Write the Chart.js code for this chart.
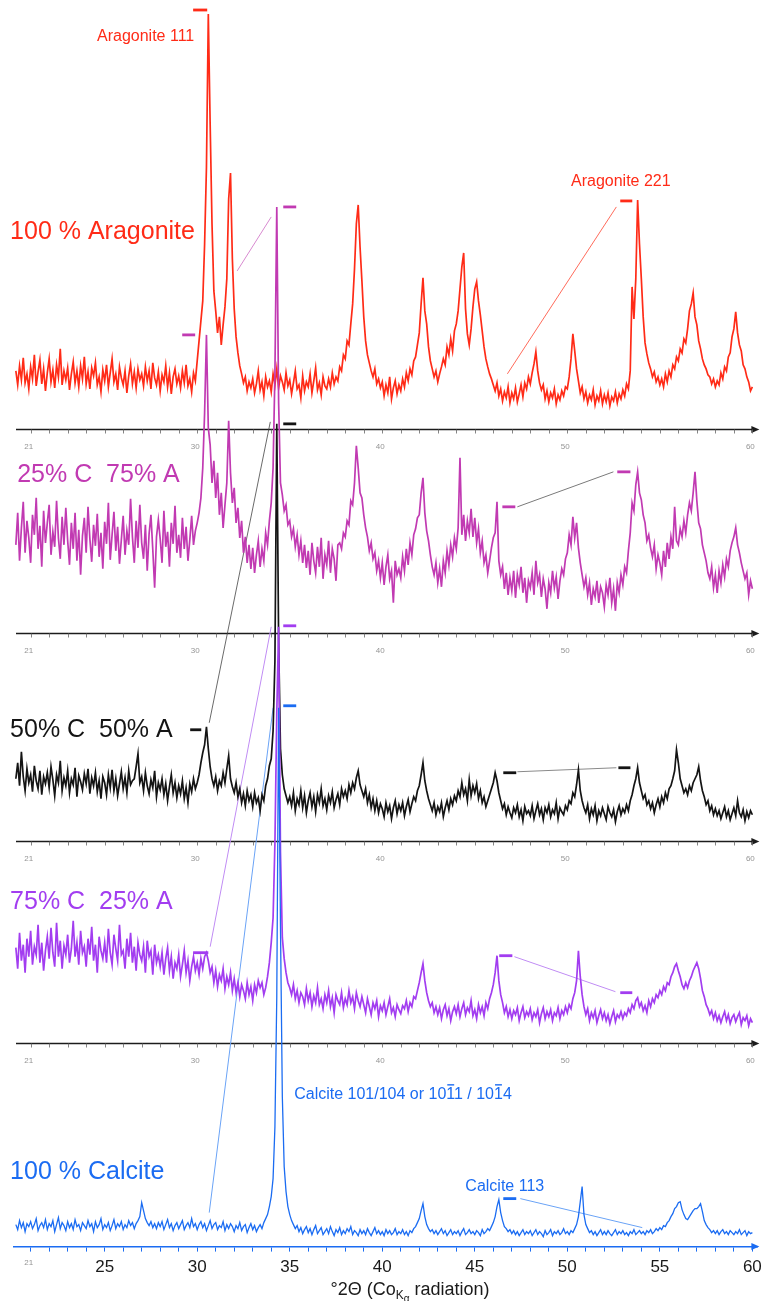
<!DOCTYPE html>
<html>
<head>
<meta charset="utf-8">
<title>XRD – aragonite / calcite mixtures</title>
<script src="https://cdn.jsdelivr.net/npm/chart.js@4.4.1/dist/chart.umd.min.js"></script>
<style>
  html, body { margin: 0; padding: 0; background: #fff; }
  canvas { display: block; }
</style>
</head>
<body>
<canvas id="xrd" width="762" height="1301"></canvas>
<script>
// scans are read every 0.1 °2θ, starting at 20.2
const twoThetaStart = 20.2
const twoThetaStep = 0.1

// intensities (arbitrary counts), one row per degree
const aragonite100 = [
  58, 44, 63, 49, 71, 46, 55, 40,
  62, 50, 74, 43, 57, 69, 45, 60, 38, 56,
  70, 47, 59, 41, 64, 52, 80, 44, 58, 49,
  61, 39, 55, 67, 46, 58, 42, 63, 50, 72,
  45, 57, 40, 61, 53, 66, 44, 52, 37, 59,
  48, 64, 42, 56, 70, 47, 55, 39, 62, 51,
  44, 58, 36, 53, 65, 45, 57, 41, 60, 49,
  55, 43, 62, 48, 58, 40, 66, 51, 44, 57,
  38, 54, 47, 63, 42, 56, 35, 52, 60, 45,
  53, 41, 58, 46, 64, 43, 50, 37, 56, 48,
  68, 88, 108, 128, 185, 262, 415, 305, 205, 138,
  118, 96, 112, 84, 104, 122, 150, 230, 256, 170,
  120, 92, 76, 63, 55, 46, 52, 38, 47, 41,
  50, 36, 45, 58, 39, 47, 33, 52, 42, 48,
  37, 55, 44, 60, 41, 53, 47, 39, 56, 43,
  49, 35, 46, 58, 40, 44, 31, 53, 38, 47,
  42, 55, 36, 48, 61, 39, 46, 34, 52, 43,
  40, 50, 42, 56, 45, 52, 48, 62, 58, 74,
  70, 88, 84, 105, 125, 160, 205, 224, 182, 148,
  112, 88, 74, 66, 58, 52, 60, 45, 50, 41,
  47, 33, 44, 36, 52, 30, 41, 48, 35, 44,
  38, 50, 42, 56, 48, 60, 54, 68, 72, 84,
  96, 125, 151, 118, 105, 82, 68, 60, 52, 58,
  47, 55, 62, 70, 64, 82, 74, 90, 78, 98,
  105, 118, 140, 162, 176, 120, 95, 84, 100, 122,
  140, 147, 128, 114, 98, 82, 70, 62, 55, 50,
  44, 38, 46, 33, 40, 28, 37, 31, 42, 26,
  36, 30, 41, 27, 35, 44, 32, 46, 40, 52,
  45, 56, 65, 77, 58, 46, 39, 44, 30, 38,
  27, 36, 31, 40, 25, 34, 29, 38, 33, 42,
  40, 52, 70, 95, 78, 60, 48, 36, 42, 30,
  37, 26, 34, 29, 39, 24, 33, 28, 38, 25,
  34, 27, 36, 23, 32, 28, 37, 26, 35, 30,
  39, 33, 45, 40, 58, 142, 110, 150, 229, 185,
  150, 112, 86, 75, 66, 60, 52, 57, 47, 52,
  44, 50, 42, 55, 47, 58, 52, 64, 60, 72,
  68, 80, 76, 90, 86, 100, 118, 125, 136, 112,
  104, 88, 80, 70, 64, 60, 54, 52, 45, 50,
  42, 48, 44, 56, 50, 62, 58, 72, 76, 92,
  100, 117, 96, 84, 78, 64, 60, 52, 47, 38,
  42
]

const calcite25 = [
  88, 120, 72, 105, 131, 80, 112, 95,
  70, 118, 98, 135, 84, 107, 66, 122, 90, 110,
  128, 78, 101, 86, 132, 95, 74, 116, 88, 125,
  92, 68, 110, 84, 120, 72, 103, 58, 97, 115,
  80, 126, 94, 71, 108, 87, 119, 76, 100, 64,
  111, 89, 130, 73, 98, 121, 82, 106, 69, 93,
  117, 78, 102, 88, 134, 96, 70, 112, 85, 128,
  90, 74, 108, 62, 99, 118, 83, 45, 96, 113,
  94, 70, 122, 86, 101, 66, 110, 89, 127, 80,
  98, 75, 115, 84, 106, 72, 93, 117, 88, 102,
  110, 120, 135, 165, 220, 298, 205, 188, 150, 172,
  135, 160, 118, 140, 105, 128, 150, 212, 160, 130,
  145, 110, 125, 95, 112, 80, 96, 70, 88, 64,
  85, 60, 78, 92, 66, 84, 72, 100, 88, 112,
  130, 165, 260, 426, 230, 150, 138, 122, 128, 108,
  112, 96, 104, 86, 98, 78, 92, 70, 88, 65,
  82, 58, 90, 72, 60, 86, 66, 95, 54, 78,
  68, 92, 60, 84, 74, 52, 88, 90, 84, 100,
  96, 112, 108, 132, 128, 150, 187, 165, 140, 135,
  118, 105, 96, 82, 90, 74, 80, 62, 72, 55,
  70, 48, 66, 78, 54, 62, 30, 72, 58, 64,
  55, 76, 62, 84, 68, 90, 78, 98, 104, 115,
  118, 140, 155, 120, 102, 92, 78, 66, 58, 70,
  50, 64, 46, 72, 60, 82, 68, 88, 76, 95,
  84, 105, 175, 98, 118, 92, 112, 100, 124, 96,
  115, 90, 104, 80, 92, 70, 78, 60, 72, 85,
  95, 100, 131, 72, 58, 66, 44, 60, 38, 55,
  42, 62, 35, 58, 48, 66, 40, 55, 30, 52,
  45, 60, 38, 72, 50, 58, 36, 54, 44, 24,
  50, 40, 62, 45, 56, 34, 52, 64, 58, 74,
  80, 98, 88, 116, 95, 110, 85, 70, 58, 46,
  55, 38, 50, 28, 44, 36, 52, 30, 46, 40,
  26, 48, 38, 55, 30, 44, 22, 50, 40, 58,
  48, 66, 60, 82, 100, 130, 122, 148, 161, 140,
  133, 118, 110, 92, 98, 85, 76, 88, 64, 78,
  70, 58, 82, 66, 90, 74, 96, 84, 126, 92,
  88, 104, 96, 112, 100, 118, 130, 122, 140, 161,
  132, 110, 104, 88, 80, 72, 60, 54, 66, 45,
  58, 40, 62, 50, 68, 56, 74, 66, 82, 90,
  96, 105, 88, 80, 70, 62, 54, 60, 38, 52,
  44
]

const calcite50 = [
  62, 78, 55, 89, 64, 50, 72, 58,
  66, 49, 75, 60, 52, 70, 46, 64, 57, 68,
  53, 74, 61, 45, 66, 58, 80, 50, 63, 55,
  70, 48, 62, 56, 73, 44, 65, 59, 51, 67,
  57, 72, 47, 63, 55, 68, 49, 60, 42, 64,
  58, 46, 66, 53, 71, 50, 62, 45, 57, 69,
  52, 63, 48, 70, 56, 60, 62, 74, 87, 58,
  64, 50, 68, 55, 47, 61, 53, 70, 44, 58,
  51, 62, 46, 57, 40, 54, 66, 48, 58, 43,
  55, 47, 60, 42, 53, 38, 57, 49, 62, 52,
  58, 66, 78, 88, 96, 114, 92, 74, 62, 55,
  64, 50, 60, 55, 68, 58, 72, 85, 62, 54,
  48, 58, 44, 52, 38, 47, 35, 50, 40, 46,
  34, 48, 38, 43, 30, 46, 40, 55, 62, 75,
  82, 110, 180, 417, 200, 92, 66, 52, 45, 38,
  44, 35, 48, 30, 42, 36, 50, 33, 45, 28,
  40, 48, 34, 44, 29, 46, 38, 52, 35, 42,
  31, 45, 38, 49, 33, 41, 47, 36, 52, 44,
  50, 42, 56, 48, 58, 52, 63, 70, 56, 50,
  44, 52, 38, 46, 33, 42, 30, 40, 28, 37,
  32, 24, 38, 29, 35, 22, 33, 40, 27, 36,
  30, 38, 25, 34, 41, 29, 37, 44, 40, 50,
  55, 66, 78, 60, 50, 42, 36, 30, 38, 26,
  34, 29, 38, 24, 33, 40, 31, 42, 36, 45,
  40, 50, 44, 58, 46, 52, 40, 61, 45, 55,
  48, 57, 42, 50, 38, 44, 34, 40, 46, 52,
  58, 68, 60, 48, 40, 32, 37, 26, 34, 28,
  23, 33, 28, 36, 24, 31, 20, 34, 27, 30,
  25, 35, 22, 30, 37, 26, 32, 21, 33, 28,
  36, 24, 31, 27, 38, 22, 33, 29, 26, 35,
  31, 40, 37, 48, 44, 56, 71, 50, 40, 33,
  28, 36, 22, 32, 26, 35, 20, 30, 25, 33,
  27, 21, 34, 28, 24, 31, 19, 29, 35, 26,
  32, 28, 36, 30, 40, 46, 55, 62, 73, 58,
  50, 42, 46, 36, 40, 32, 38, 28, 36, 42,
  34, 44, 38, 48, 42, 52, 55, 62, 70, 91,
  78, 62, 55, 48, 52, 46, 55, 50, 58, 62,
  66, 74, 60, 50, 44, 36, 40, 30, 35, 26,
  32, 25, 30, 22, 28, 34, 24, 30, 21, 27,
  33, 25, 40, 28, 24, 31, 20, 29, 23, 30,
  26
]

const calcite75 = [
  95, 74, 110, 82, 98, 70, 104, 86,
  112, 78, 96, 88, 118, 80, 100, 72, 92, 106,
  84, 115, 90, 76, 120, 86, 102, 74, 97, 88,
  108, 80, 94, 122, 86, 100, 78, 112, 90, 96,
  76, 104, 88, 116, 82, 98, 70, 106, 92, 84,
  100, 80, 114, 90, 78, 108, 94, 82, 118, 88,
  92, 74, 104, 86, 110, 80, 96, 72, 100, 88,
  82, 96, 70, 102, 86, 92, 68, 98, 80, 88,
  76, 90, 68, 84, 95, 72, 86, 64, 80, 74,
  88, 66, 78, 92, 70, 82, 62, 76, 86, 72,
  80, 68, 84, 74, 86, 90, 82, 70, 76, 60,
  72, 56, 68, 62, 74, 54, 66, 58, 70, 52,
  64, 50, 60, 46, 58, 52, 44, 60, 48, 56,
  42, 58, 50, 62, 55, 60, 48, 55, 66, 80,
  100, 125, 200, 330, 416, 190, 105, 84, 70, 60,
  55, 48, 58, 44, 52, 40, 50, 46, 38, 54,
  42, 50, 36, 47, 40, 55, 38, 44, 34, 48,
  40, 52, 36, 45, 30, 48, 42, 38, 50, 35,
  44, 38, 52, 40, 46, 34, 50, 42, 36, 46,
  38, 30, 44, 36, 28, 40, 34, 42, 26, 37,
  32, 40, 28, 36, 44, 30, 35, 26, 38, 33,
  29, 37, 34, 42, 31, 40, 36, 46, 44, 52,
  60, 70, 79, 62, 50, 42, 36, 40, 30, 36,
  28, 35, 24, 33, 38, 27, 34, 22, 31, 36,
  29, 38, 26, 34, 40, 28, 35, 31, 42, 27,
  33, 24, 38, 30, 36, 27, 40, 34, 44, 50,
  58, 70, 87, 62, 48, 40, 30, 36, 26, 33,
  24, 32, 28, 35, 22, 30, 36, 25, 31, 27,
  34, 23, 30, 26, 33, 20, 29, 35, 24, 31,
  26, 33, 22, 30, 27, 35, 24, 32, 28, 36,
  30, 38, 34, 44, 50, 62, 92, 66, 48, 36,
  28, 34, 22, 30, 25, 32, 20, 27, 33, 24,
  30, 22, 28, 19, 26, 32, 21, 28, 25, 31,
  24, 30, 27, 34, 30, 38, 34, 42, 45, 36,
  40, 32, 37, 30, 42, 36, 44, 40, 48, 45,
  52, 48, 56, 52, 60, 58, 66, 70, 76, 79,
  72, 66, 58, 54, 60, 55, 62, 66, 72, 76,
  80, 74, 64, 52, 46, 38, 34, 28, 32, 24,
  30, 22, 27, 20, 26, 31, 22, 28, 19, 25,
  28, 21, 26, 30, 18, 25, 22, 27, 17, 24,
  20
]

const calcite100 = [
  22, 17, 26, 19, 24, 15, 23, 20,
  25, 18, 22, 28, 16, 21, 24, 19, 27, 17,
  23, 20, 26, 15, 22, 29, 18, 24, 21, 16,
  25, 19, 23, 17, 27, 20, 22, 16, 24, 21,
  18, 26, 20, 23, 15, 25, 19, 22, 28, 17,
  22, 19, 24, 16, 21, 27, 18, 23, 20, 25,
  17, 22, 19, 26, 21, 24, 18, 23, 26, 30,
  44, 36, 28, 24, 21, 25, 19, 23, 18, 24,
  20, 25, 17, 22, 27, 19, 23, 16, 21, 24,
  18, 22, 26, 17, 21, 24, 19, 28, 20, 23,
  17, 22, 25, 19, 23, 16, 21, 26, 18, 22,
  24, 17, 21, 19, 25, 16, 22, 18, 23, 20,
  15, 21, 18, 24, 16, 20, 22, 14, 19, 23,
  17, 21, 15, 19, 22, 18, 24, 28, 32, 40,
  50, 68, 120, 250, 539, 320, 150, 80, 55, 40,
  32, 26, 22, 18, 21, 15, 19, 13, 17, 20,
  14, 18, 12, 17, 21, 13, 16, 19, 12, 15,
  18, 13, 20, 15, 11, 17, 14, 19, 12, 16,
  13, 18, 15, 20, 12, 16, 14, 11, 17, 13,
  16, 12, 18, 14, 11, 15, 19, 13, 16, 12,
  15, 11, 17, 13, 16, 12, 14, 18, 12, 15,
  13, 17, 12, 15, 11, 16, 14, 18, 20, 24,
  28, 36, 43, 30, 22, 18, 15, 17, 13, 16,
  12, 15, 18, 13, 16, 11, 14, 17, 12, 15,
  13, 16, 11, 15, 18, 12, 14, 17, 13, 15,
  12, 16, 14, 11, 17, 13, 15, 18, 16, 20,
  24, 30, 40, 47, 34, 26, 20, 18, 15, 17,
  13, 16, 12, 15, 11, 14, 17, 12, 15, 13,
  16, 11, 14, 17, 12, 15, 13, 10, 16, 12,
  14, 17, 11, 15, 13, 16, 12, 14, 18, 13,
  15, 12, 16, 14, 18, 22, 30, 45, 60, 32,
  22, 18, 14, 16, 12, 15, 11, 14, 17, 12,
  15, 12, 16, 13, 11, 14, 17, 12, 15, 13,
  16, 12, 14, 11, 15, 13, 17, 12, 14, 16,
  13, 15, 12, 16, 14, 17, 13, 15, 18, 16,
  19, 17, 21, 20, 24, 26, 30, 33, 38, 40,
  44, 45, 37, 32, 28, 27, 30, 33, 36, 38,
  38, 40, 43, 35, 26, 22, 19, 17, 14, 16,
  13, 16, 12, 15, 17, 13, 15, 12, 16, 14,
  12, 15, 13, 17, 12, 14, 16, 11, 15, 13,
  14
]

const sampleNames = ['100 % Aragonite', '25% C  75% A', '50% C  50% A', '75% C  25% A', '100 % Calcite']
const bottomTickLabels = [25, 30, 35, 40, 45, 50, 55, 60]
const panelTickLabels = [21, 30, 40, 50, 60]

const twoTheta = aragonite100.map((_, i) => Math.round((twoThetaStart + i * twoThetaStep) * 10) / 10)
const degreeTicks = []
for (let d = 21; d <= 60; d++) degreeTicks.push(d)

// layout of the stacked scans (pixel row of each zero line)
const CHART_TOP = 4
const CHART_BOTTOM = 1247
const FONT = '"Liberation Sans", Arial, Helvetica, sans-serif'
const BLUE = '#1b6cf2'

const panels = [
  { id: 'yA100', axisY: 429, color: '#ff2b17', values: aragonite100, nameAt: [19.89, 197] },
  { id: 'yC25', axisY: 633, color: '#c13ab2', values: calcite25, nameAt: [20.27, 158] },
  { id: 'yC50', axisY: 841, color: '#141414', values: calcite50, nameAt: [19.89, 111] },
  { id: 'yC75', axisY: 1043, color: '#a23df0', values: calcite75, nameAt: [19.89, 141] },
  { id: 'yC100', axisY: 1247, color: BLUE, values: calcite100, nameAt: [19.89, 75] }
]

// peak labels: [panel, 2θ, height]
const notes = [
  { panel: 0, text: 'Aragonite 111', at: [29.84, 392], align: 'right' },
  { panel: 0, text: 'Aragonite 221', at: [52.89, 247], align: 'center' },
  { panel: 4, text: 'Calcite 113', at: [44.49, 60], align: 'left' }
]

// short marker dashes above peaks: [panel, from 2θ, to 2θ, height]
const dashes = [
  [0, 29.78, 30.54, 419], [0, 52.86, 53.51, 228],
  [1, 29.19, 29.89, 298], [1, 34.65, 35.35, 426], [1, 46.49, 47.19, 126], [1, 52.70, 53.41, 161],
  [2, 34.65, 35.35, 417], [2, 29.62, 30.22, 111], [2, 46.54, 47.24, 68], [2, 52.76, 53.41, 73],
  [3, 34.65, 35.35, 417], [3, 29.78, 30.60, 90], [3, 46.32, 47.03, 87], [3, 52.86, 53.51, 50],
  [4, 34.65, 35.35, 541], [4, 46.54, 47.24, 48]
]

// thin leader lines linking peaks to markers
const leaders = [
  { panel: 0, from: [46.76, 55], to: [52.65, 222], color: '#ff5a48', width: 0.9 },
  { panel: 1, from: [32.16, 362], to: [34.0, 416], color: '#d88ad0', width: 1 },
  { panel: 2, from: [30.65, 118], to: [33.95, 419], color: '#444', width: 0.8 },
  { panel: 1, from: [47.3, 126], to: [52.49, 161], color: '#7a7a7a', width: 1 },
  { panel: 2, from: [47.3, 69], to: [52.65, 73], color: '#8a8a8a', width: 1 },
  { panel: 3, from: [30.70, 96], to: [34.0, 416], color: '#c08cf4', width: 1 },
  { panel: 3, from: [47.14, 86], to: [52.6, 51], color: '#c08cf4', width: 1 },
  { panel: 4, from: [30.65, 34], to: [34.1, 539], color: '#6aa3f6', width: 1 },
  { panel: 4, from: [47.46, 48], to: [54.05, 19], color: '#6aa3f6', width: 1 }
]

const px = (chart, deg) => chart.scales.x.getPixelForValue(deg)
const py = (chart, i, h) => chart.scales[panels[i].id].getPixelForValue(h)

function drawPanelAxis(chart, i, color) {
  const ctx = chart.ctx
  const y0 = Math.round(py(chart, i, 0)) + 0.5
  const x0 = chart.chartArea.left + 2
  const x1 = px(chart, 60) + 1
  ctx.strokeStyle = color
  ctx.lineWidth = 1.3
  ctx.beginPath()
  ctx.moveTo(x0, y0)
  ctx.lineTo(x1, y0)
  ctx.stroke()
  ctx.fillStyle = color
  ctx.beginPath()
  ctx.moveTo(x1 + 6, y0)
  ctx.lineTo(x1 - 2, y0 - 3.5)
  ctx.lineTo(x1 - 2, y0 + 3.5)
  ctx.closePath()
  ctx.fill()
  ctx.lineWidth = 0.8
  ctx.strokeStyle = '#666'
  degreeTicks.forEach(d => {
    const tx = Math.round(px(chart, d)) + 0.5
    ctx.beginPath()
    ctx.moveTo(tx, y0)
    ctx.lineTo(tx, y0 + 4)
    ctx.stroke()
  })
}

function drawTitle(ctx, cx, y) {
  const parts = [
    { t: '°2Θ (Co', size: 18, dy: 0 },
    { t: 'K', size: 12, dy: 4 },
    { t: 'α', size: 10, dy: 7 },
    { t: ' radiation)', size: 18, dy: 0 }
  ]
  let w = 0
  parts.forEach(p => { ctx.font = p.size + 'px ' + FONT; w += ctx.measureText(p.t).width })
  let x = cx - w / 2
  ctx.textAlign = 'left'
  ctx.textBaseline = 'alphabetic'
  ctx.fillStyle = '#1a1a1a'
  parts.forEach(p => {
    ctx.font = p.size + 'px ' + FONT
    ctx.fillText(p.t, x, y + p.dy)
    x += ctx.measureText(p.t).width
  })
}

function drawCalciteLabel(ctx, x, y) {
  const t = 'Calcite 101/104 or 1011 / 1014'
  ctx.font = '16px ' + FONT
  ctx.textAlign = 'left'
  ctx.textBaseline = 'middle'
  ctx.fillStyle = BLUE
  ctx.fillText(t, x, y)
  const one = ctx.measureText('1').width
  ;['Calcite 101/104 or 10', 'Calcite 101/104 or 1011 / 10'].forEach(pre => {
    const bx = x + ctx.measureText(pre).width
    ctx.fillRect(bx + 1, y - 10.5, one - 2, 1.4)
  })
}

const overlayPlugin = {
  id: 'xrdOverlay',
  beforeDatasetsDraw(chart) {
    const ctx = chart.ctx
    ctx.save()
    for (let i = 0; i < 4; i++) drawPanelAxis(chart, i, '#1c1c1c')
    leaders.forEach(l => {
      ctx.strokeStyle = l.color
      ctx.lineWidth = l.width
      ctx.beginPath()
      ctx.moveTo(px(chart, l.from[0]), py(chart, l.panel, l.from[1]))
      ctx.lineTo(px(chart, l.to[0]), py(chart, l.panel, l.to[1]))
      ctx.stroke()
    })
    ctx.restore()
  },
  afterDatasetsDraw(chart) {
    const ctx = chart.ctx
    ctx.save()

    // small grey degree labels under every scan axis
    ctx.font = '8px ' + FONT
    ctx.fillStyle = '#959595'
    ctx.textAlign = 'center'
    ctx.textBaseline = 'middle'
    panels.forEach((p, i) => {
      const y0 = py(chart, i, 0)
      const list = i < 4 ? panelTickLabels : [21]
      list.forEach(d => ctx.fillText(String(d), px(chart, d) - 2, y0 + (i < 4 ? 18 : 16)))
    })

    // bottom axis arrow head
    const yb = chart.chartArea.bottom
    const xe = px(chart, 60) + 1
    ctx.fillStyle = BLUE
    ctx.beginPath()
    ctx.moveTo(xe + 6, yb)
    ctx.lineTo(xe - 2, yb - 3.5)
    ctx.lineTo(xe - 2, yb + 3.5)
    ctx.closePath()
    ctx.fill()

    // marker dashes
    dashes.forEach(([i, d0, d1, h]) => {
      const y = py(chart, i, h)
      ctx.fillStyle = panels[i].color
      ctx.fillRect(px(chart, d0), y - 1.4, px(chart, d1) - px(chart, d0), 2.8)
    })

    // sample names
    ctx.textAlign = 'left'
    ctx.textBaseline = 'middle'
    ctx.font = '25px ' + FONT
    panels.forEach((p, i) => {
      ctx.fillStyle = p.color
      ctx.fillText(sampleNames[i], px(chart, p.nameAt[0]), py(chart, i, p.nameAt[1]))
    })

    // peak labels
    ctx.font = '16px ' + FONT
    notes.forEach(n => {
      ctx.fillStyle = panels[n.panel].color
      ctx.textAlign = n.align
      ctx.fillText(n.text, px(chart, n.at[0]), py(chart, n.panel, n.at[1]))
    })
    drawCalciteLabel(ctx, px(chart, 35.24), py(chart, 4, 152))

    drawTitle(ctx, 410, 1295)
    ctx.restore()
  }
}

const yScales = {}
panels.forEach(p => {
  yScales[p.id] = {
    type: 'linear',
    display: false,
    min: -(CHART_BOTTOM - p.axisY),
    max: p.axisY - CHART_TOP
  }
})

new Chart(document.getElementById('xrd'), {
  type: 'line',
  data: {
    datasets: panels.map((p, i) => ({
      label: sampleNames[i],
      data: p.values.map((v, k) => ({ x: twoTheta[k], y: v })),
      yAxisID: p.id,
      borderColor: p.color,
      borderWidth: i === 4 ? 1.3 : 1.7,
      pointRadius: 0,
      tension: 0,
      fill: false,
      order: panels.length - i
    }))
  },
  options: {
    responsive: false,
    animation: false,
    devicePixelRatio: 1,
    layout: { padding: { top: CHART_TOP, left: 14, right: 5, bottom: 17 } },
    plugins: {
      legend: { display: false },
      tooltip: { enabled: false }
    },
    scales: Object.assign({
      x: {
        type: 'linear',
        min: 20.1,
        max: 60.25,
        afterBuildTicks: axis => { axis.ticks = degreeTicks.map(v => ({ value: v })) },
        // keep the plot full width; the last label may sit in the margin
        afterFit: axis => { axis.paddingLeft = 0; axis.paddingRight = 0 },
        ticks: {
          autoSkip: false,
          maxRotation: 0,
          padding: 6,
          color: '#1a1a1a',
          font: { family: FONT, size: 17 },
          callback: v => bottomTickLabels.includes(v) ? String(v) : ''
        },
        grid: { drawOnChartArea: false, tickLength: 5, tickColor: BLUE, tickWidth: 1 },
        border: { color: BLUE, width: 1.5 }
      }
    }, yScales)
  },
  plugins: [overlayPlugin]
})
</script>
</body>
</html>
